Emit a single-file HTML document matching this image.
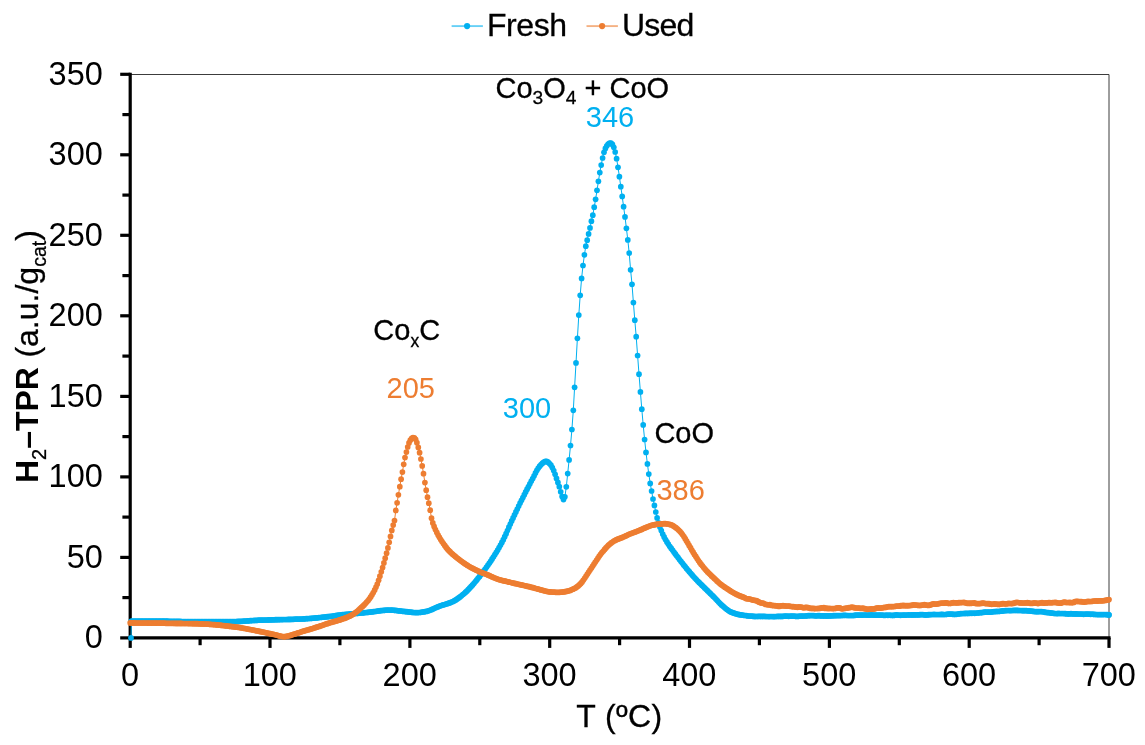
<!DOCTYPE html>
<html lang="en"><head><meta charset="utf-8"><title>H2-TPR</title>
<style>
html,body{margin:0;padding:0;background:#fff;}
body{width:1145px;height:745px;overflow:hidden;}
svg{display:block;font-family:"Liberation Sans",Arial,sans-serif;}
text{stroke-width:0.3px;}
text[fill="#000"]{stroke:#000;}
</style></head><body>
<svg width="1145" height="745" viewBox="0 0 1145 745">
<defs>
<marker id="mb" markerWidth="7" markerHeight="7" refX="3.5" refY="3.5" markerUnits="userSpaceOnUse"><circle cx="3.5" cy="3.5" r="2.85" fill="#00B0F0"/></marker>
<marker id="mo" markerWidth="7" markerHeight="7" refX="3.5" refY="3.5" markerUnits="userSpaceOnUse"><circle cx="3.5" cy="3.5" r="2.85" fill="#ED7D31"/></marker>
</defs>
<rect width="1145" height="745" fill="#fff"/>
<!-- plot border -->
<path d="M130.2 74.5 H1109 V637.9" fill="none" stroke="#3c3c3c" stroke-width="1"/>
<!-- axes -->
<g stroke="#000" stroke-width="3.2" fill="none">
<line x1="130.2" y1="72.7" x2="130.2" y2="639.5"/>
<line x1="128.6" y1="637.9" x2="1110.6" y2="637.9"/>
<line x1="120.2" y1="637.9" x2="130.2" y2="637.9"/><line x1="122.4" y1="597.6" x2="130.2" y2="597.6"/><line x1="120.2" y1="557.4" x2="130.2" y2="557.4"/><line x1="122.4" y1="517.1" x2="130.2" y2="517.1"/><line x1="120.2" y1="476.9" x2="130.2" y2="476.9"/><line x1="122.4" y1="436.6" x2="130.2" y2="436.6"/><line x1="120.2" y1="396.4" x2="130.2" y2="396.4"/><line x1="122.4" y1="356.1" x2="130.2" y2="356.1"/><line x1="120.2" y1="315.8" x2="130.2" y2="315.8"/><line x1="122.4" y1="275.6" x2="130.2" y2="275.6"/><line x1="120.2" y1="235.3" x2="130.2" y2="235.3"/><line x1="122.4" y1="195.1" x2="130.2" y2="195.1"/><line x1="120.2" y1="154.8" x2="130.2" y2="154.8"/><line x1="122.4" y1="114.6" x2="130.2" y2="114.6"/><line x1="120.2" y1="74.3" x2="130.2" y2="74.3"/><line x1="130.2" y1="637.9" x2="130.2" y2="647.9"/><line x1="200.1" y1="637.9" x2="200.1" y2="645.2"/><line x1="270.0" y1="637.9" x2="270.0" y2="647.9"/><line x1="339.9" y1="637.9" x2="339.9" y2="645.2"/><line x1="409.9" y1="637.9" x2="409.9" y2="647.9"/><line x1="479.8" y1="637.9" x2="479.8" y2="645.2"/><line x1="549.7" y1="637.9" x2="549.7" y2="647.9"/><line x1="619.6" y1="637.9" x2="619.6" y2="645.2"/><line x1="689.5" y1="637.9" x2="689.5" y2="647.9"/><line x1="759.4" y1="637.9" x2="759.4" y2="645.2"/><line x1="829.4" y1="637.9" x2="829.4" y2="647.9"/><line x1="899.3" y1="637.9" x2="899.3" y2="645.2"/><line x1="969.2" y1="637.9" x2="969.2" y2="647.9"/><line x1="1039.1" y1="637.9" x2="1039.1" y2="645.2"/><line x1="1109.0" y1="637.9" x2="1109.0" y2="647.9"/>
</g>
<!-- series -->
<polyline fill="none" stroke="#00B0F0" stroke-width="1.0" stroke-linejoin="round" marker-start="url(#mb)" marker-mid="url(#mb)" marker-end="url(#mb)" points="131.0,637.9 131.4,621.2 132.8,621.2 134.2,621.2 135.6,621.2 137.0,621.2 138.4,621.2 139.8,621.2 141.2,621.2 142.6,621.2 144.0,621.2 145.4,621.2 146.8,621.2 148.2,621.2 149.6,621.2 151.0,621.2 152.4,621.2 153.8,621.2 155.2,621.2 156.6,621.2 158.0,621.2 159.4,621.2 160.8,621.2 162.2,621.2 163.5,621.2 164.9,621.2 166.3,621.2 167.7,621.2 169.1,621.3 170.5,621.3 171.9,621.3 173.3,621.3 174.7,621.4 176.1,621.4 177.5,621.4 178.9,621.4 180.3,621.4 181.7,621.5 183.1,621.5 184.5,621.5 185.9,621.5 187.3,621.5 188.7,621.5 190.1,621.5 191.5,621.5 192.9,621.5 194.3,621.5 195.7,621.5 197.1,621.5 198.5,621.5 199.9,621.5 201.3,621.5 202.7,621.5 204.1,621.5 205.5,621.5 206.9,621.5 208.3,621.5 209.7,621.5 211.1,621.5 212.5,621.5 213.9,621.5 215.3,621.5 216.7,621.5 218.1,621.5 219.5,621.5 220.9,621.5 222.3,621.5 223.7,621.5 225.1,621.5 226.5,621.5 227.9,621.5 229.3,621.5 230.7,621.5 232.1,621.5 233.5,621.5 234.9,621.5 236.3,621.5 237.7,621.4 239.1,621.4 240.5,621.3 241.9,621.3 243.3,621.2 244.7,621.1 246.0,621.0 247.4,620.9 248.8,620.8 250.2,620.7 251.6,620.6 253.0,620.5 254.4,620.4 255.8,620.4 257.2,620.3 258.6,620.2 260.0,620.2 261.4,620.1 262.8,620.1 264.2,620.0 265.6,620.0 267.0,620.0 268.4,619.9 269.8,619.9 271.2,619.8 272.6,619.8 274.0,619.8 275.4,619.7 276.8,619.7 278.2,619.7 279.6,619.6 281.0,619.6 282.4,619.6 283.8,619.5 285.2,619.5 286.6,619.5 288.0,619.4 289.4,619.4 290.8,619.4 292.2,619.3 293.6,619.3 295.0,619.2 296.4,619.2 297.8,619.1 299.2,619.1 300.6,619.0 302.0,619.0 303.4,618.9 304.8,618.8 306.2,618.7 307.6,618.6 309.0,618.5 310.4,618.4 311.8,618.3 313.2,618.2 314.6,618.0 316.0,617.9 317.4,617.8 318.8,617.6 320.2,617.5 321.6,617.3 323.0,617.2 324.4,617.0 325.8,616.9 327.2,616.7 328.5,616.6 329.9,616.4 331.3,616.3 332.7,616.1 334.1,615.9 335.5,615.6 336.9,615.4 338.3,615.2 339.7,615.1 341.1,614.9 342.5,614.7 343.9,614.6 345.3,614.4 346.7,614.3 348.1,614.2 349.5,614.0 350.9,613.9 352.3,613.8 353.7,613.6 355.1,613.5 356.5,613.4 357.9,613.3 359.3,613.1 360.7,613.0 362.1,612.9 363.5,612.8 364.9,612.6 366.3,612.5 367.7,612.4 369.1,612.2 370.5,612.1 371.9,611.9 373.3,611.7 374.7,611.5 376.1,611.3 377.5,611.1 378.9,610.9 380.3,610.7 381.7,610.5 383.1,610.4 384.5,610.3 385.9,610.1 387.3,610.1 388.7,610.0 390.1,610.1 391.5,610.1 392.9,610.2 394.3,610.3 395.7,610.4 397.1,610.6 398.5,610.8 399.9,610.9 401.3,611.1 402.7,611.3 404.1,611.4 405.5,611.6 406.9,611.7 408.3,611.9 409.7,612.0 411.0,612.2 412.4,612.4 413.8,612.5 415.2,612.6 416.6,612.6 418.0,612.6 419.4,612.5 420.8,612.3 422.2,612.1 423.6,611.9 425.0,611.6 426.4,611.4 427.8,611.0 429.2,610.5 430.6,610.0 432.0,609.4 433.4,608.8 434.8,608.1 436.2,607.5 437.6,606.9 439.0,606.3 440.4,605.8 441.8,605.3 443.2,604.9 444.6,604.5 446.0,604.1 447.4,603.7 448.8,603.2 450.2,602.7 451.6,602.1 453.0,601.5 454.4,600.7 455.8,599.9 457.2,598.9 458.6,597.9 460.0,596.9 461.4,595.8 462.8,594.6 464.2,593.5 465.6,592.2 467.0,590.9 468.4,589.4 469.8,587.9 471.2,586.4 472.6,584.9 474.0,583.3 475.4,581.6 476.8,579.9 478.2,578.1 479.6,576.4 481.0,574.6 482.4,572.7 483.8,570.9 485.2,569.0 486.6,567.1 488.0,565.1 489.4,563.1 490.8,561.1 492.1,558.9 493.5,556.8 494.9,554.6 496.3,552.3 497.7,550.0 499.1,547.5 500.5,545.0 501.9,542.4 503.3,539.7 504.7,536.7 506.1,533.7 507.5,530.5 508.9,527.2 510.3,524.0 511.7,520.9 513.1,517.9 514.5,514.9 515.9,511.9 517.3,509.0 518.7,506.0 520.1,503.1 521.5,500.3 522.9,497.5 524.3,494.7 525.7,491.9 527.1,489.2 528.5,486.5 529.9,483.8 531.3,481.1 532.7,478.5 534.1,475.8 535.5,472.9 536.9,470.3 538.3,468.0 539.7,466.2 541.1,464.6 542.5,463.2 543.9,462.0 545.3,461.4 546.7,461.4 548.1,462.2 549.5,463.5 550.9,465.1 552.3,467.6 553.7,470.5 555.1,474.3 556.5,478.4 557.9,482.4 559.3,486.7 560.7,491.8 562.1,496.5 563.5,499.6 564.9,496.8 566.3,486.8 567.7,473.6 569.1,459.9 570.5,445.5 571.9,429.5 573.3,410.3 574.6,387.3 576.0,362.9 577.4,338.3 578.8,315.1 580.2,295.3 581.6,278.4 583.0,265.5 584.4,254.8 585.8,246.2 587.2,240.2 588.6,233.9 590.0,227.9 591.4,221.2 592.8,215.2 594.2,207.2 595.6,199.3 597.0,190.3 598.4,181.3 599.8,172.6 601.2,165.1 602.6,158.0 604.0,152.3 605.4,148.4 606.8,145.8 608.2,144.0 609.6,143.2 611.0,143.2 612.4,144.4 613.8,147.3 615.2,152.0 616.6,158.7 618.0,167.3 619.4,176.7 620.8,186.7 622.2,196.4 623.6,206.7 625.0,216.9 626.4,228.3 627.8,239.9 629.2,253.1 630.6,269.8 632.0,284.3 633.4,302.6 634.8,320.2 636.2,336.7 637.6,355.5 639.0,374.2 640.4,391.9 641.8,409.2 643.2,424.9 644.6,439.5 646.0,452.4 647.4,463.9 648.8,474.1 650.2,483.4 651.6,491.0 653.0,499.0 654.4,505.4 655.8,512.0 657.1,517.9 658.5,522.9 659.9,527.1 661.3,530.5 662.7,534.0 664.1,536.9 665.5,539.5 666.9,541.9 668.3,544.1 669.7,546.3 671.1,548.2 672.5,550.1 673.9,552.0 675.3,553.9 676.7,555.8 678.1,557.6 679.5,559.5 680.9,561.3 682.3,563.1 683.7,564.9 685.1,566.6 686.5,568.4 687.9,570.0 689.3,571.7 690.7,573.3 692.1,574.9 693.5,576.5 694.9,578.0 696.3,579.5 697.7,581.0 699.1,582.4 700.5,583.8 701.9,585.2 703.3,586.6 704.7,587.9 706.1,589.3 707.5,590.7 708.9,592.1 710.3,593.4 711.7,594.8 713.1,596.2 714.5,597.6 715.9,599.1 717.3,600.6 718.7,602.1 720.1,603.5 721.5,604.9 722.9,606.1 724.3,607.3 725.7,608.5 727.1,609.6 728.5,610.6 729.9,611.5 731.3,612.2 732.7,612.7 734.1,613.2 735.5,613.7 736.9,614.1 738.3,614.4 739.6,614.7 741.0,614.9 742.4,615.1 743.8,615.3 745.2,615.5 746.6,615.6 748.0,616.0 749.4,616.0 750.8,616.1 752.2,616.1 753.6,616.4 755.0,616.4 756.4,616.5 757.8,616.3 759.2,616.4 760.6,616.3 762.0,616.4 763.4,616.4 764.8,616.4 766.2,616.5 767.6,616.5 769.0,616.6 770.4,616.5 771.8,616.5 773.2,616.6 774.6,616.6 776.0,616.5 777.4,616.4 778.8,616.3 780.2,616.4 781.6,616.4 783.0,616.3 784.4,616.2 785.8,616.2 787.2,616.2 788.6,616.3 790.0,616.2 791.4,616.1 792.8,616.1 794.2,616.1 795.6,616.3 797.0,616.4 798.4,616.3 799.8,616.2 801.2,616.0 802.6,616.1 804.0,616.0 805.4,616.0 806.8,615.8 808.2,615.7 809.6,615.6 811.0,615.6 812.4,615.5 813.8,615.7 815.2,615.8 816.6,615.8 818.0,615.7 819.4,615.7 820.8,615.8 822.1,615.9 823.5,615.8 824.9,615.9 826.3,615.9 827.7,615.9 829.1,615.9 830.5,615.8 831.9,615.8 833.3,615.7 834.7,615.7 836.1,615.6 837.5,615.6 838.9,615.6 840.3,615.6 841.7,615.5 843.1,615.4 844.5,615.3 845.9,615.3 847.3,615.5 848.7,615.5 850.1,615.5 851.5,615.5 852.9,615.5 854.3,615.4 855.7,615.2 857.1,615.1 858.5,615.2 859.9,615.2 861.3,615.2 862.7,615.1 864.1,615.0 865.5,615.0 866.9,615.1 868.3,615.1 869.7,615.1 871.1,614.9 872.5,615.0 873.9,615.1 875.3,615.2 876.7,615.2 878.1,615.2 879.5,615.1 880.9,615.1 882.3,615.2 883.7,615.3 885.1,615.3 886.5,615.2 887.9,615.3 889.3,615.2 890.7,615.3 892.1,615.3 893.5,615.4 894.9,615.1 896.3,614.9 897.7,615.0 899.1,615.1 900.5,615.3 901.9,615.1 903.3,615.2 904.6,615.1 906.0,615.1 907.4,615.0 908.8,614.8 910.2,615.0 911.6,614.9 913.0,614.9 914.4,614.9 915.8,614.8 917.2,614.8 918.6,614.9 920.0,614.7 921.4,614.6 922.8,614.5 924.2,614.9 925.6,614.9 927.0,614.9 928.4,614.7 929.8,614.7 931.2,614.5 932.6,614.5 934.0,614.4 935.4,614.5 936.8,614.5 938.2,614.5 939.6,614.5 941.0,614.4 942.4,614.4 943.8,614.5 945.2,614.5 946.6,614.3 948.0,614.2 949.4,614.1 950.8,614.2 952.2,614.1 953.6,614.4 955.0,614.3 956.4,614.3 957.8,614.0 959.2,613.8 960.6,613.7 962.0,613.5 963.4,613.5 964.8,613.4 966.2,613.4 967.6,613.3 969.0,613.4 970.4,613.2 971.8,613.3 973.2,613.2 974.6,613.3 976.0,613.1 977.4,613.0 978.8,612.8 980.2,612.7 981.6,612.6 983.0,612.4 984.4,612.1 985.7,612.1 987.1,612.1 988.5,612.2 989.9,612.2 991.3,612.0 992.7,611.8 994.1,611.6 995.5,611.6 996.9,611.4 998.3,611.5 999.7,611.3 1001.1,611.2 1002.5,610.9 1003.9,610.8 1005.3,610.6 1006.7,610.6 1008.1,610.5 1009.5,610.6 1010.9,610.6 1012.3,610.5 1013.7,610.4 1015.1,610.3 1016.5,610.4 1017.9,610.4 1019.3,610.5 1020.7,610.5 1022.1,610.6 1023.5,610.7 1024.9,610.7 1026.3,610.6 1027.7,610.8 1029.1,610.9 1030.5,611.1 1031.9,611.1 1033.3,611.4 1034.7,611.5 1036.1,611.7 1037.5,611.7 1038.9,611.6 1040.3,611.6 1041.7,611.6 1043.1,611.8 1044.5,612.1 1045.9,612.4 1047.3,612.5 1048.7,612.7 1050.1,612.8 1051.5,613.1 1052.9,613.2 1054.3,613.5 1055.7,613.5 1057.1,613.6 1058.5,613.4 1059.9,613.5 1061.3,613.5 1062.7,613.5 1064.1,613.6 1065.5,613.6 1066.9,613.9 1068.2,613.8 1069.6,613.9 1071.0,613.7 1072.4,613.8 1073.8,613.9 1075.2,613.9 1076.6,613.9 1078.0,614.0 1079.4,614.0 1080.8,614.0 1082.2,614.1 1083.6,614.3 1085.0,614.2 1086.4,614.0 1087.8,614.0 1089.2,614.2 1090.6,614.3 1092.0,614.2 1093.4,614.3 1094.8,614.4 1096.2,614.5 1097.6,614.6 1099.0,614.6 1100.4,614.6 1101.8,614.6 1103.2,614.6 1104.6,614.5 1106.0,614.6 1107.4,614.7 1108.8,614.9 1109.0,614.8"/>
<polyline fill="none" stroke="#ED7D31" stroke-width="1.0" stroke-linejoin="round" marker-start="url(#mo)" marker-mid="url(#mo)" marker-end="url(#mo)" points="130.2,622.9 131.5,622.9 132.8,622.9 134.2,622.9 135.5,623.0 136.8,623.0 138.1,623.0 139.4,623.0 140.8,623.0 142.1,623.0 143.4,623.0 144.7,623.0 146.1,623.0 147.4,623.1 148.7,623.1 150.0,623.1 151.3,623.1 152.7,623.1 154.0,623.1 155.3,623.1 156.6,623.2 157.9,623.2 159.3,623.2 160.6,623.2 161.9,623.2 163.2,623.2 164.6,623.2 165.9,623.3 167.2,623.3 168.5,623.3 169.8,623.3 171.2,623.3 172.5,623.3 173.8,623.3 175.1,623.4 176.4,623.4 177.8,623.4 179.1,623.4 180.4,623.4 181.7,623.4 183.1,623.5 184.4,623.5 185.7,623.5 187.0,623.5 188.3,623.6 189.7,623.6 191.0,623.6 192.3,623.6 193.6,623.7 194.9,623.7 196.3,623.7 197.6,623.7 198.9,623.8 200.2,623.8 201.6,623.9 202.9,623.9 204.2,624.0 205.5,624.0 206.8,624.1 208.2,624.2 209.5,624.3 210.8,624.4 212.1,624.5 213.4,624.6 214.8,624.7 216.1,624.8 217.4,624.9 218.7,625.1 220.1,625.2 221.4,625.4 222.7,625.5 224.0,625.6 225.3,625.8 226.7,625.9 228.0,626.1 229.3,626.3 230.6,626.4 231.9,626.6 233.3,626.7 234.6,626.9 235.9,627.1 237.2,627.2 238.6,627.4 239.9,627.6 241.2,627.8 242.5,628.0 243.8,628.3 245.2,628.5 246.5,628.8 247.8,629.0 249.1,629.3 250.4,629.5 251.8,629.8 253.1,630.1 254.4,630.3 255.7,630.6 257.1,630.9 258.4,631.1 259.7,631.4 261.0,631.7 262.3,632.0 263.7,632.2 265.0,632.5 266.3,632.8 267.6,633.1 268.9,633.4 270.3,633.7 271.6,634.0 272.9,634.2 274.2,634.5 275.6,634.8 276.9,635.1 278.2,635.5 279.5,635.9 280.8,636.2 282.2,636.5 283.5,636.6 284.8,636.6 286.1,636.4 287.4,636.1 288.8,635.8 290.1,635.4 291.4,635.0 292.7,634.6 294.1,634.2 295.4,633.8 296.7,633.3 298.0,632.9 299.3,632.5 300.7,632.0 302.0,631.6 303.3,631.2 304.6,630.8 305.9,630.4 307.3,630.0 308.6,629.7 309.9,629.3 311.2,628.9 312.6,628.5 313.9,628.1 315.2,627.7 316.5,627.2 317.8,626.8 319.2,626.4 320.5,625.9 321.8,625.5 323.1,625.0 324.4,624.6 325.8,624.1 327.1,623.7 328.4,623.3 329.7,622.8 331.1,622.4 332.4,622.1 333.7,621.7 335.0,621.3 336.3,621.0 337.7,620.6 339.0,620.2 340.3,619.7 341.6,619.3 342.9,618.8 344.3,618.4 345.6,617.9 346.9,617.3 348.2,616.8 349.6,616.2 350.9,615.5 352.2,614.8 353.5,614.0 354.8,613.1 356.2,612.1 357.5,611.0 358.8,609.8 360.1,608.6 361.4,607.4 362.8,606.2 364.1,604.9 365.4,603.5 366.7,602.1 368.1,600.5 369.4,598.8 370.7,596.9 372.0,594.8 373.3,592.5 374.7,589.9 376.0,587.1 377.3,584.0 378.6,580.3 379.9,576.2 381.3,571.8 382.6,567.5 383.9,562.9 385.2,558.2 386.6,553.2 387.9,547.9 389.2,542.3 390.5,536.4 391.8,530.4 393.2,525.1 394.5,520.6 395.8,510.4 397.1,502.8 398.4,494.8 399.8,486.7 401.1,479.2 402.4,472.1 403.7,464.3 405.0,457.6 406.4,452.1 407.7,447.0 409.0,442.9 410.3,440.2 411.7,438.3 413.0,437.5 414.3,437.8 415.6,439.3 416.9,442.7 418.3,447.4 419.6,452.7 420.9,459.0 422.2,465.9 423.5,473.7 424.9,482.6 426.2,490.2 427.5,497.2 428.8,503.2 430.2,510.2 431.5,518.2 432.8,522.9 434.1,526.4 435.4,529.5 436.8,532.4 438.1,535.0 439.4,537.3 440.7,539.5 442.0,541.5 443.4,543.5 444.7,545.4 446.0,547.2 447.3,548.9 448.7,550.4 450.0,551.7 451.3,553.0 452.6,554.2 453.9,555.3 455.3,556.4 456.6,557.5 457.9,558.5 459.2,559.6 460.5,560.6 461.9,561.5 463.2,562.5 464.5,563.4 465.8,564.3 467.2,565.2 468.5,566.0 469.8,566.8 471.1,567.5 472.4,568.2 473.8,568.9 475.1,569.6 476.4,570.2 477.7,570.8 479.0,571.4 480.4,572.0 481.7,572.6 483.0,573.1 484.3,573.6 485.7,574.1 487.0,574.6 488.3,575.2 489.6,575.7 490.9,576.3 492.3,576.9 493.6,577.5 494.9,578.1 496.2,578.6 497.5,579.1 498.9,579.5 500.2,579.9 501.5,580.3 502.8,580.6 504.2,580.9 505.5,581.2 506.8,581.5 508.1,581.8 509.4,582.2 510.8,582.5 512.1,582.8 513.4,583.1 514.7,583.4 516.0,583.7 517.4,584.0 518.7,584.3 520.0,584.6 521.3,584.9 522.7,585.2 524.0,585.5 525.3,585.8 526.6,586.1 527.9,586.4 529.3,586.7 530.6,587.1 531.9,587.4 533.2,587.7 534.5,588.1 535.9,588.5 537.2,588.8 538.5,589.2 539.8,589.6 541.2,589.9 542.5,590.3 543.8,590.6 545.1,591.0 546.4,591.3 547.8,591.6 549.1,591.8 550.4,591.9 551.7,592.0 553.0,592.1 554.4,592.2 555.7,592.3 557.0,592.3 558.3,592.3 559.7,592.3 561.0,592.2 562.3,592.1 563.6,591.9 564.9,591.7 566.3,591.4 567.6,591.1 568.9,590.8 570.2,590.4 571.5,589.8 572.9,589.2 574.2,588.6 575.5,587.9 576.8,586.9 578.2,585.9 579.5,584.7 580.8,583.4 582.1,581.9 583.4,580.0 584.8,578.0 586.1,576.0 587.4,574.1 588.7,572.1 590.0,570.1 591.4,568.1 592.7,566.1 594.0,564.1 595.3,562.0 596.7,560.0 598.0,558.0 599.3,556.1 600.6,554.3 601.9,552.6 603.3,551.0 604.6,549.4 605.9,547.9 607.2,546.5 608.5,545.2 609.9,544.0 611.2,542.9 612.5,542.0 613.8,541.1 615.2,540.4 616.5,539.7 617.8,539.2 619.1,538.7 620.4,538.2 621.8,537.7 623.1,537.1 624.4,536.5 625.7,535.9 627.0,535.3 628.4,534.6 629.7,534.0 631.0,533.5 632.3,533.0 633.7,532.5 635.0,532.0 636.3,531.6 637.6,531.0 638.9,530.5 640.3,529.9 641.6,529.4 642.9,528.8 644.2,528.2 645.5,527.7 646.9,527.1 648.2,526.6 649.5,526.0 650.8,525.6 652.2,525.2 653.5,524.9 654.8,524.7 656.1,524.4 657.4,524.2 658.8,524.1 660.1,524.0 661.4,523.9 662.7,523.8 664.0,523.7 665.4,523.7 666.7,523.8 668.0,524.0 669.3,524.3 670.6,524.7 672.0,525.1 673.3,525.9 674.6,526.8 675.9,527.7 677.3,528.8 678.6,530.0 679.9,531.3 681.2,532.8 682.5,534.5 683.9,536.5 685.2,538.7 686.5,540.9 687.8,543.1 689.1,545.4 690.5,547.7 691.8,550.0 693.1,552.2 694.4,554.4 695.8,556.4 697.1,558.5 698.4,560.5 699.7,562.4 701.0,564.2 702.4,565.8 703.7,567.5 705.0,569.0 706.3,570.5 707.6,571.9 709.0,573.3 710.3,574.6 711.6,575.9 712.9,577.1 714.3,578.4 715.6,579.6 716.9,580.9 718.2,582.1 719.5,583.3 720.9,584.4 722.2,585.3 723.5,586.3 724.8,587.2 726.1,588.0 727.5,588.9 728.8,589.8 730.1,590.7 731.4,591.6 732.8,592.3 734.1,593.1 735.4,593.8 736.7,594.4 738.0,595.1 739.4,595.7 740.7,596.2 742.0,596.7 743.3,597.2 744.6,597.7 746.0,598.6 747.3,598.8 748.6,598.8 749.9,599.1 751.3,599.5 752.6,600.0 753.9,600.2 755.2,600.5 756.5,600.7 757.9,601.4 759.2,602.2 760.5,602.8 761.8,603.0 763.1,603.0 764.5,603.9 765.8,604.5 767.1,604.6 768.4,604.8 769.8,604.7 771.1,605.3 772.4,605.3 773.7,605.7 775.0,605.5 776.4,605.9 777.7,605.9 779.0,606.4 780.3,605.9 781.6,605.8 783.0,605.6 784.3,605.9 785.6,606.0 786.9,606.1 788.3,606.0 789.6,606.1 790.9,606.5 792.2,606.6 793.5,606.7 794.9,606.8 796.2,607.1 797.5,607.3 798.8,606.9 800.1,607.0 801.5,607.2 802.8,607.6 804.1,607.8 805.4,607.3 806.8,607.4 808.1,607.7 809.4,608.1 810.7,608.4 812.0,608.3 813.4,608.4 814.7,608.6 816.0,608.5 817.3,608.5 818.6,608.4 820.0,608.3 821.3,607.9 822.6,607.8 823.9,607.7 825.3,608.4 826.6,608.2 827.9,608.6 829.2,608.3 830.5,608.5 831.9,608.5 833.2,608.6 834.5,608.5 835.8,608.3 837.1,607.9 838.5,607.9 839.8,607.9 841.1,608.6 842.4,608.8 843.8,608.5 845.1,608.3 846.4,608.0 847.7,608.1 849.0,607.7 850.4,607.5 851.7,607.1 853.0,607.3 854.3,607.7 855.6,608.0 857.0,608.0 858.3,608.0 859.6,608.2 860.9,608.5 862.3,608.2 863.6,608.4 864.9,608.7 866.2,609.0 867.5,609.3 868.9,609.1 870.2,609.1 871.5,608.9 872.8,609.0 874.1,609.0 875.5,608.4 876.8,608.0 878.1,607.9 879.4,608.2 880.8,608.1 882.1,607.8 883.4,607.6 884.7,607.4 886.0,607.3 887.4,606.8 888.7,606.7 890.0,606.6 891.3,606.6 892.6,606.7 894.0,606.5 895.3,606.3 896.6,606.1 897.9,606.2 899.3,606.2 900.6,605.7 901.9,605.7 903.2,605.4 904.5,605.7 905.9,605.7 907.2,605.7 908.5,605.7 909.8,605.5 911.1,605.4 912.5,605.1 913.8,604.9 915.1,605.0 916.4,605.2 917.8,605.3 919.1,605.4 920.4,605.5 921.7,605.2 923.0,605.0 924.4,604.7 925.7,605.0 927.0,605.2 928.3,605.5 929.6,605.2 931.0,604.7 932.3,604.1 933.6,603.9 934.9,604.1 936.3,604.1 937.6,604.0 938.9,603.5 940.2,603.3 941.5,603.2 942.9,603.2 944.2,603.1 945.5,602.9 946.8,602.9 948.1,603.3 949.5,603.5 950.8,603.3 952.1,602.9 953.4,602.6 954.7,602.8 956.1,602.8 957.4,602.9 958.7,602.7 960.0,602.6 961.4,602.6 962.7,602.5 964.0,602.3 965.3,602.8 966.6,603.1 968.0,603.4 969.3,603.2 970.6,603.4 971.9,603.1 973.2,603.2 974.6,602.9 975.9,603.6 977.2,603.5 978.5,603.7 979.9,603.5 981.2,603.4 982.5,603.0 983.8,603.1 985.1,603.5 986.5,603.7 987.8,603.6 989.1,603.6 990.4,604.2 991.7,604.3 993.1,604.2 994.4,603.8 995.7,604.1 997.0,604.2 998.4,604.4 999.7,604.3 1001.0,604.0 1002.3,603.7 1003.6,603.7 1005.0,603.8 1006.3,603.9 1007.6,603.5 1008.9,603.4 1010.2,603.5 1011.6,603.6 1012.9,603.4 1014.2,603.0 1015.5,602.7 1016.9,602.4 1018.2,602.5 1019.5,602.8 1020.8,602.9 1022.1,603.0 1023.5,603.0 1024.8,603.0 1026.1,602.9 1027.4,602.7 1028.7,602.9 1030.1,603.3 1031.4,603.3 1032.7,603.3 1034.0,602.9 1035.4,603.1 1036.7,603.1 1038.0,603.6 1039.3,603.0 1040.6,603.0 1042.0,602.7 1043.3,603.1 1044.6,603.1 1045.9,602.9 1047.2,602.8 1048.6,602.7 1049.9,602.6 1051.2,602.8 1052.5,602.6 1053.9,602.5 1055.2,602.4 1056.5,602.5 1057.8,603.0 1059.1,603.1 1060.5,603.2 1061.8,602.8 1063.1,602.3 1064.4,602.2 1065.7,602.4 1067.1,602.5 1068.4,602.5 1069.7,602.4 1071.0,602.7 1072.4,602.6 1073.7,602.4 1075.0,601.6 1076.3,601.4 1077.6,601.3 1079.0,601.6 1080.3,601.6 1081.6,601.7 1082.9,602.0 1084.2,602.1 1085.6,601.9 1086.9,601.5 1088.2,601.4 1089.5,601.5 1090.9,601.5 1092.2,601.3 1093.5,601.0 1094.8,601.0 1096.1,600.9 1097.5,601.1 1098.8,600.8 1100.1,600.8 1101.4,600.8 1102.7,600.8 1104.1,600.6 1105.4,600.4 1106.7,600.0 1108.0,599.9 1109.0,599.5"/>
<!-- tick labels -->
<g font-size="32.5" fill="#000">
<text x="102.8" y="648.1" text-anchor="end">0</text><text x="102.8" y="567.6" text-anchor="end">50</text><text x="102.8" y="487.1" text-anchor="end">100</text><text x="102.8" y="406.6" text-anchor="end">150</text><text x="102.8" y="326.0" text-anchor="end">200</text><text x="102.8" y="245.5" text-anchor="end">250</text><text x="102.8" y="165.0" text-anchor="end">300</text><text x="102.8" y="84.5" text-anchor="end">350</text>
<text x="130.0" y="686" text-anchor="middle">0</text><text x="269.8" y="686" text-anchor="middle">100</text><text x="409.7" y="686" text-anchor="middle">200</text><text x="549.5" y="686" text-anchor="middle">300</text><text x="689.3" y="686" text-anchor="middle">400</text><text x="829.2" y="686" text-anchor="middle">500</text><text x="969.0" y="686" text-anchor="middle">600</text><text x="1108.8" y="686" text-anchor="middle">700</text>
</g>
<!-- axis titles -->
<text x="619.4" y="726.8" font-size="32" letter-spacing="0.35" text-anchor="middle" fill="#000">T (ºC)</text>
<text transform="translate(37.6 483.1) rotate(-90)" font-size="32" fill="#000"><tspan font-weight="bold" stroke="none">H</tspan><tspan font-size="20" dy="8">2</tspan><tspan font-weight="bold" stroke="none" dy="-8">–TPR</tspan><tspan font-size="32" dx="0.6"> (a.u./g</tspan><tspan font-size="19.5" dy="8">cat</tspan><tspan font-size="32" dy="-8">)</tspan></text>
<!-- legend -->
<line x1="451.6" y1="26.1" x2="482.9" y2="26.1" stroke="#00B0F0" stroke-opacity="0.6" stroke-width="1.9"/>
<circle cx="467.1" cy="26.1" r="3.1" fill="#00B0F0"/>
<text x="486.9" y="36" font-size="32" letter-spacing="-0.4" fill="#000">Fresh</text>
<line x1="586.5" y1="26.1" x2="617.9" y2="26.1" stroke="#ED7D31" stroke-opacity="0.6" stroke-width="1.9"/>
<circle cx="602.1" cy="26.1" r="3.1" fill="#ED7D31"/>
<text x="621.9" y="36" font-size="32" letter-spacing="-0.75" fill="#000">Used</text>
<!-- annotations -->
<g font-size="29">
<text x="495.5" y="98.4" fill="#000">Co<tspan font-size="19.2" dy="6">3</tspan><tspan dy="-6">O</tspan><tspan font-size="19.2" dy="6">4</tspan><tspan dy="-6"> + CoO</tspan></text>
<text x="610" y="127.2" fill="#00B0F0" text-anchor="middle">346</text>
<text x="373.3" y="340.2" fill="#000">Co<tspan font-size="17.5" dy="6.8">x</tspan><tspan dy="-6.8">C</tspan></text>
<text x="410.8" y="397.6" fill="#ED7D31" text-anchor="middle">205</text>
<text x="527" y="417.6" fill="#00B0F0" text-anchor="middle">300</text>
<text x="654.4" y="443.0" fill="#000">CoO</text>
<text x="680.6" y="500.1" fill="#ED7D31" text-anchor="middle">386</text>
</g>
</svg>
</body></html>
